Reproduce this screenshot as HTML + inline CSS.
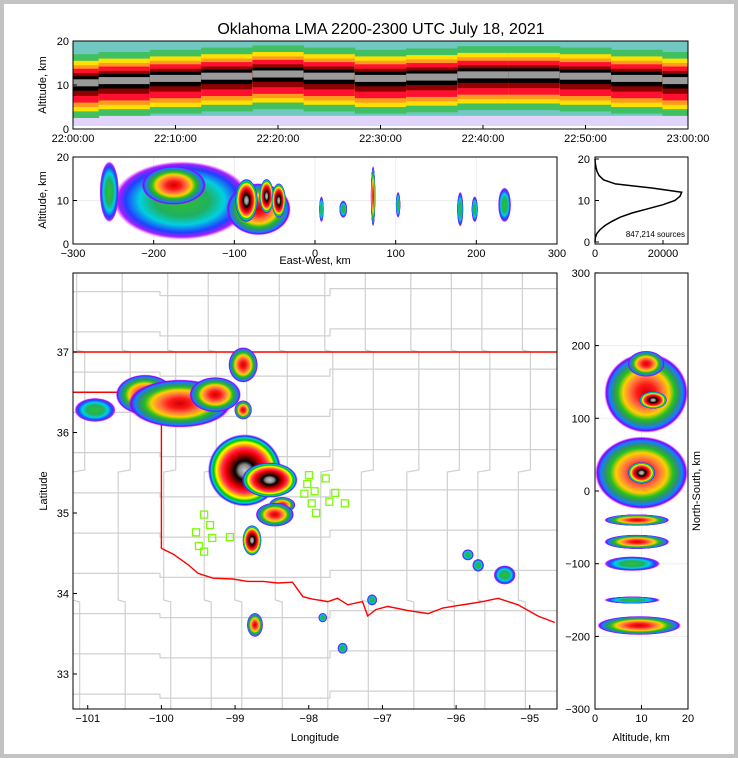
<!DOCTYPE html>
<html><head><meta charset="utf-8"><style>
html,body{margin:0;padding:0;background:#c3c3c3;}
svg{display:block;font-family:"Liberation Sans",sans-serif;}
text{fill:#000;}
</style></head><body>
<svg id="fig" width="738" height="758" viewBox="0 0 738 758" xmlns="http://www.w3.org/2000/svg">
<defs>
<radialGradient id="g-high"><stop offset="0" stop-color="#c8c8c8"/><stop offset=".16" stop-color="#8a8a8a"/><stop offset=".26" stop-color="#000"/><stop offset=".4" stop-color="#8b0000"/><stop offset=".52" stop-color="#ff0000"/><stop offset=".62" stop-color="#ff3060"/><stop offset=".7" stop-color="#ffa500"/><stop offset=".77" stop-color="#ffff00"/><stop offset=".84" stop-color="#00c000"/><stop offset=".9" stop-color="#00d0d0"/><stop offset=".95" stop-color="#2020ff"/><stop offset="1" stop-color="#ff00ff" stop-opacity="0"/></radialGradient>
<radialGradient id="g-mid"><stop offset="0" stop-color="#d00000"/><stop offset=".22" stop-color="#ff1a1a"/><stop offset=".4" stop-color="#ff7a40"/><stop offset=".55" stop-color="#ffd000"/><stop offset=".68" stop-color="#20c020"/><stop offset=".78" stop-color="#309070"/><stop offset=".88" stop-color="#1080ff"/><stop offset=".95" stop-color="#8000ff"/><stop offset="1" stop-color="#ff00ff" stop-opacity="0"/></radialGradient>
<radialGradient id="g-low"><stop offset="0" stop-color="#30c030"/><stop offset=".4" stop-color="#20b060"/><stop offset=".62" stop-color="#00d0e0"/><stop offset=".82" stop-color="#2040ff"/><stop offset=".93" stop-color="#a020ff"/><stop offset="1" stop-color="#ff00ff" stop-opacity="0"/></radialGradient>
<clipPath id="c-top"><rect x="73" y="41" width="615" height="88"/></clipPath>
<clipPath id="c-ew"><rect x="73" y="157" width="484" height="87"/></clipPath>
<clipPath id="c-map"><rect x="73" y="273" width="484" height="436"/></clipPath>
<clipPath id="c-ns"><rect x="595" y="273" width="93" height="436"/></clipPath>
</defs>
<rect x="4" y="4" width="730" height="750" fill="#fff"/>
<text x="381" y="34" font-size="16" text-anchor="middle">Oklahoma LMA 2200-2300 UTC July 18, 2021</text>
<g id="topPanel" clip-path="url(#c-top)"></g>
<g id="ewPanel" clip-path="url(#c-ew)"></g>
<g id="histPanel"></g>
<g id="mapPanel" clip-path="url(#c-map)"></g>
<g id="nsPanel" clip-path="url(#c-ns)"></g>
<g id="axesGroup"></g>
</svg>
<script>
// ---- data ----
const timeMinutes=[0,5,10,15,20,25,30,35,40,45,50,55,60];
const bandCenterKm=[10.5,11,11.5,12,12.5,12,11.5,11.8,12.3,12.3,12,11.5,11];
const timeTickLabels=["22:00:00","22:10:00","22:20:00","22:30:00","22:40:00","22:50:00","23:00:00"];
const ewBlobX=[-165,-255,-175,-70,-85,-60,-45,8,35,72,103,180,198,235];
const ewBlobZ=[10,12,13.5,8,10,11,10,8,8,11,9,8,8,9];
const ewBlobRx=[85,12,40,40,14,9,9,3,5,3,3,4,4,8];
const ewBlobRz=[9,7,4.5,6,5,4,4,3,2,7,3,4,3,4];
const ewBlobLevel=["low","low","mid","mid","high","high","high","low","low","mid","low","low","low","low"];
const histAltKm=[0,1,2,3,4,5,6,7,8,9,10,11,12,13,14,15,16,17,18,19,20];
const histCounts=[0,100,500,1500,3000,5000,7500,11000,15500,20000,23500,25000,25500,17000,6000,2500,1200,600,300,100,0];
const mapBlobLon=[-100.22,-99.75,-99.27,-100.90,-98.89,-98.89,-98.87,-98.53,-98.36,-98.46,-98.77,-98.73,-95.84,-95.70,-95.34,-97.14,-97.81,-97.54];
const mapBlobLat=[36.47,36.36,36.47,36.28,36.84,36.28,35.53,35.41,35.10,34.98,34.66,33.61,34.48,34.35,34.23,33.92,33.70,33.32];
const mapBlobRlon=[0.4,0.7,0.35,0.28,0.2,0.12,0.5,0.38,0.18,0.26,0.13,0.11,0.08,0.08,0.15,0.07,0.06,0.07];
const mapBlobRlat=[0.25,0.3,0.22,0.15,0.22,0.12,0.45,0.22,0.1,0.15,0.19,0.15,0.07,0.08,0.12,0.07,0.06,0.07];
const mapBlobLevel=["mid","mid","mid","low","mid","mid","high","high","mid","mid","high","mid","low","low","low","low","low","low"];
const stationLon=[-97.997,-97.77,-98.02,-97.92,-98.06,-97.64,-97.96,-97.72,-97.51,-97.90,-99.42,-99.34,-99.53,-99.31,-99.07,-99.49,-99.42];
const stationLat=[35.47,35.43,35.36,35.27,35.24,35.25,35.12,35.14,35.12,35.00,34.98,34.85,34.76,34.69,34.70,34.59,34.52];
const redRiverLon=[-100,-99.84,-99.64,-99.50,-99.30,-99.03,-98.83,-98.62,-98.42,-98.22,-98.08,-97.95,-97.74,-97.61,-97.47,-97.27,-97.20,-97.09,-96.93,-96.66,-96.38,-96.18,-95.98,-95.84,-95.64,-95.43,-95.16,-94.89,-94.66];
const redRiverLat=[34.56,34.49,34.36,34.25,34.19,34.18,34.15,34.15,34.13,34.14,33.96,33.93,33.90,33.94,33.86,33.90,33.72,33.80,33.84,33.79,33.75,33.82,33.85,33.87,33.90,33.94,33.86,33.72,33.64];
const nsBlobAlt=[11,12.5,11,10,10,9,9,8,8,9.5];
const nsBlobNS=[135,125,175,25,25,-40,-70,-100,-150,-185];
const nsBlobRalt=[9,3,4,10,3,7,7,6,6,9];
const nsBlobRns=[55,12,18,50,15,8,10,10,5,13];
const nsBlobLevel=["mid","high","mid","mid","high","mid","mid","low","low","mid"];

// ---- scales ----
const tx=m=>73+m/60*615, tz=z=>129-z/20*88;
const ex=k=>73+(k+300)/600*484, ez=z=>244-z/20*87;
const hx=c=>595+c/20000*68, hz=z=>242-z*4.15;
const mx=l=>73+(l+101.2)*73.67, my=l=>352-(l-37)*80.5;
const nx=a=>595+a/20*93, ny=n=>491-n*0.727;
const SVGNS="http://www.w3.org/2000/svg";
function mk(tag,at,parent){const e=document.createElementNS(SVGNS,tag);for(const k in at)e.setAttribute(k,at[k]);parent.appendChild(e);return e;}
const G=id=>document.getElementById(id);

// ---- top panel ----
const topG=G('topPanel');
let r=mk('rect',{x:73,y:tz(20),width:615,height:tz(2.5)-tz(20),fill:'#70c8c0'},topG);


r=mk('rect',{x:73,y:tz(3),width:615,height:tz(0.7)-tz(3),fill:'#e0d4fa'},topG);


const up=[6.5,5,4,3.2,2.2,1.5,0.8], dn=[8,6.5,5.5,4.5,3,1.8,0.8];
const bandCol=['#40c060','#ffe000','#ff9a20','#ff1030','#900000','#000','#9a9a9a'];
for(let i=0;i<timeMinutes.length;i++){
  const t0=Math.max(0,timeMinutes[i]-2.5),t1=Math.min(60,timeMinutes[i]+2.5),c=bandCenterKm[i];
  for(let b=0;b<up.length;b++){
    const e=mk('rect',{x:tx(t0),y:tz(c+up[b]),width:tx(t1)-tx(t0)+0.5,height:tz(c-dn[b])-tz(c+up[b]),fill:bandCol[b]},topG);
    
    
  }
}
// ---- blobs helper ----
function blob(parent,cx,cy,rx,ry,lvl,name){const e=mk('ellipse',{cx,cy,rx,ry,fill:'url(#g-'+lvl+')'},parent);
  
  }
const ewG=G('ewPanel');
[0,100,200,-100,-200].forEach(k=>mk('line',{x1:ex(k),x2:ex(k),y1:157,y2:244,stroke:'#eee'},ewG));
mk('line',{x1:73,x2:557,y1:ez(10),y2:ez(10),stroke:'#eee'},ewG);
for(let i=0;i<ewBlobX.length;i++){blob(ewG,ex(ewBlobX[i]),ez(ewBlobZ[i]),ewBlobRx[i]*484/600,ewBlobRz[i]*87/20,ewBlobLevel[i],'ew-source-cluster');}
// ---- histogram ----
const histG=G('histPanel');
let d='';histAltKm.forEach((a,i)=>{d+=(i?'L':'M')+hx(histCounts[i]).toFixed(1)+','+hz(a).toFixed(1);});
let hp=mk('path',{d,fill:'none',stroke:'#000','stroke-width':1.5},histG);


let st=mk('text',{x:685,y:237,'font-size':8,'text-anchor':'end'},histG);st.textContent='847,214 sources';


// ---- map ----
const mapG=G('mapPanel');
for(let lon=-101.15;lon<-94.5;lon+=0.55){const x=mx(lon)+((Math.abs(Math.round(lon*10))%3)*5);mk('path',{d:`M${x},273 L${x},350 L${x+8},352 L${x+8},470 L${x-4},472 L${x-4},600 L${x+3},602 L${x+3},709`,stroke:'#d0d0d0','stroke-width':1.2,fill:'none'},mapG);}
for(let lat=32.75;lat<38;lat+=0.5){const y=my(lat);mk('path',{d:`M73,${y} L160,${y} L160,${y+4} L330,${y+4} L330,${y-3} L557,${y-3}`,stroke:'#d0d0d0','stroke-width':1.2,fill:'none'},mapG);}
let bd=`M73,${my(37)} L557,${my(37)} M73,${my(36.5)} L${mx(-100)},${my(36.5)} L${mx(-100)},${my(34.56)}`;
redRiverLon.forEach((l,i)=>{bd+='L'+mx(l).toFixed(1)+','+my(redRiverLat[i]).toFixed(1);});
let bp=mk('path',{d:bd,fill:'none',stroke:'#ff0000','stroke-width':1.4},mapG);


for(let i=0;i<mapBlobLon.length;i++){blob(mapG,mx(mapBlobLon[i]),my(mapBlobLat[i]),mapBlobRlon[i]*73.67,mapBlobRlat[i]*80.5,mapBlobLevel[i],'storm-source-cluster');}
for(let i=0;i<stationLon.length;i++){const e=mk('rect',{x:mx(stationLon[i])-3.5,y:my(stationLat[i])-3.5,width:7,height:7,fill:'none',stroke:'#7cfc00','stroke-width':1.3},mapG);
  
  }
// ---- NS ----
const nsG=G('nsPanel');
mk('line',{x1:nx(10),x2:nx(10),y1:273,y2:709,stroke:'#eee'},nsG);
[200,100,0,-100,-200].forEach(v=>mk('line',{x1:595,x2:688,y1:ny(v),y2:ny(v),stroke:'#eee'},nsG));
for(let i=0;i<nsBlobAlt.length;i++){blob(nsG,nx(nsBlobAlt[i]),ny(nsBlobNS[i]),nsBlobRalt[i]*93/20,nsBlobRns[i]*0.727,nsBlobLevel[i],'ns-source-cluster');}
// ---- axes ----
const axG=G('axesGroup');
function frame(x,y,w,h,name){const e=mk('rect',{x,y,width:w,height:h,fill:'none',stroke:'#000','stroke-width':1},axG);
  
  }
function txt(s,x,y,anchor,size,rot){const e=mk('text',{x,y,'text-anchor':anchor,'font-size':size||11},axG);if(rot)e.setAttribute('transform',`rotate(-90 ${x} ${y})`);e.textContent=s;
  
  }
function tick(x1,y1,x2,y2){mk('line',{x1,y1,x2,y2,stroke:'#000'},axG);}
frame(73,41,615,88,'time-height-frame');
frame(73,157,484,87,'ew-frame');frame(595,157,93,87,'hist-frame');
frame(73,273,484,436,'map-frame');frame(595,273,93,436,'ns-frame');
timeTickLabels.forEach((s,i)=>{const x=tx(i*10);tick(x,129,x,125);txt(s,x,142,'middle');});
[0,10,20].forEach(v=>{tick(73,tz(v),77,tz(v));txt(v,69,tz(v)+4,'end');});
txt('Altitude, km',46,85,'middle',11,true);
[-300,-200,-100,0,100,200,300].forEach(v=>{tick(ex(v),244,ex(v),240);txt(v<0?'\u2212'+(-v):v,ex(v),257,'middle');});
[0,10,20].forEach(v=>{tick(73,ez(v),77,ez(v));txt(v,69,ez(v)+4,'end');});
txt('Altitude, km',46,200,'middle',11,true);txt('East-West, km',315,264,'middle');
[0,10,20].forEach(v=>{tick(595,hz(v),599,hz(v));txt(v,590,hz(v)+4,'end');});
[0,20000].forEach(v=>{tick(hx(v),244,hx(v),240);txt(v,hx(v),257,'middle');});
[-101,-100,-99,-98,-97,-96,-95].forEach(v=>{tick(mx(v),709,mx(v),705);txt('\u2212'+(-v),mx(v),722,'middle');});
[33,34,35,36,37].forEach(v=>{tick(73,my(v),77,my(v));txt(v,69,my(v)+4,'end');});
txt('Longitude',315,741,'middle');txt('Latitude',47,491,'middle',11,true);
[300,200,100,0,-100,-200,-300].forEach(v=>{tick(595,ny(v),599,ny(v));txt(v<0?'\u2212'+(-v):v,590,ny(v)+4,'end');});
[0,10,20].forEach(v=>{tick(nx(v),709,nx(v),705);txt(v,nx(v),722,'middle');});
txt('Altitude, km',641,741,'middle');txt('North-South, km',700,491,'middle',11,true);
</script>
</body></html>
